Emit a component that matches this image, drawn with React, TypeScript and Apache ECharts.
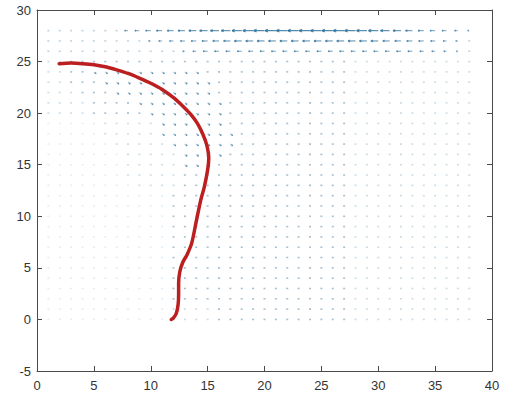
import React, { useEffect, useRef } from "react";
import * as echarts from "echarts";

// Red trajectory (data units)
const trajX = [1.95, 3, 4, 5, 6, 7, 8, 9, 10, 11, 12, 12.8, 13.5, 14.1, 14.6, 14.95, 15.1, 15.0, 14.7, 14.4, 14.0, 13.6, 13.2, 12.8, 12.55, 12.45, 12.45, 12.4, 12.25, 12.0, 11.8];
const trajY = [24.8, 24.85, 24.8, 24.7, 24.5, 24.2, 23.85, 23.4, 22.9, 22.3, 21.5, 20.7, 19.9, 19.0, 17.9, 16.8, 15.6, 14.5, 12.8, 11.6, 9.5, 7.4, 6.3, 5.5, 4.6, 3.5, 2.5, 1.4, 0.6, 0.15, 0];

// Quiver grid columns
const gridXs = [1, 2, 3, 4, 5, 6, 7, 8, 9, 10, 11, 12, 13, 14, 15, 16, 17, 18, 19, 20, 21, 22, 23, 24, 25, 26, 27, 28, 29, 30, 31, 32, 33, 34, 35, 36, 37, 38];

// Top rows: leftward arrow lengths (x units), one per column
const topRowsY = [28, 27, 26];
const row28U = [0.1, 0.1, 0.1, 0.1, 0.1, 0.1, 0.1, 0.3, 0.4, 0.45, 0.5, 0.55, 0.6, 0.65, 0.7, 0.75, 0.8, 0.85, 0.9, 0.95, 0.95, 0.95, 0.95, 0.95, 0.95, 0.95, 0.95, 0.95, 0.9, 0.85, 0.8, 0.7, 0.6, 0.5, 0.45, 0.4, 0.3, 0.15];
const row27U = [0.1, 0.1, 0.1, 0.1, 0.1, 0.1, 0.1, 0.1, 0.1, 0.2, 0.3, 0.35, 0.4, 0.45, 0.5, 0.55, 0.6, 0.65, 0.65, 0.65, 0.65, 0.65, 0.65, 0.65, 0.65, 0.65, 0.65, 0.65, 0.65, 0.65, 0.6, 0.55, 0.5, 0.45, 0.4, 0.3, 0.2, 0.1];
const row26U = [0.12, 0.12, 0.12, 0.12, 0.12, 0.12, 0.12, 0.12, 0.12, 0.12, 0.12, 0.12, 0.2, 0.3, 0.4, 0.4, 0.4, 0.4, 0.4, 0.4, 0.4, 0.4, 0.4, 0.4, 0.4, 0.4, 0.4, 0.4, 0.4, 0.4, 0.4, 0.4, 0.4, 0.35, 0.3, 0.25, 0.15, 0.1];

// Remaining rows: run-length codes (o very faint dot, . faint dot, : medium dot, d short down-right arrow)
const fieldY = [25, 24, 23, 22, 21, 20, 19, 18, 17, 16, 15, 14, 13, 12, 11, 10, 9, 8, 7, 6, 5, 4, 3, 2, 1, 0];
const fieldRuns = [
  "2. 25: 11.",
  "2. 2: 10d 13: 11.",
  "2. 3: 10d 12: 11.",
  "3. 3: 9d 12: 11.",
  "4. 4: 8d 11: 11.",
  "4. 5: 7d 11: 11.",
  "5o 5. 6d 11: 11.",
  "5o 5. 7d 10: 11.",
  "6o 5. 6d 10: 11.",
  "7o 5. 4d 11: 11.",
  "7o 5. 3d 12: 11.",
  "7o 5. 15: 11.",
  "8o 4. 15: 11.",
  "11o 16: 11.",
  "11o 16: 11.",
  "11o 16: 11.",
  "11o 16: 11.",
  "11o 16: 11.",
  "11o 16: 11.",
  "11o 16: 11.",
  "11o 16: 11.",
  "11o 16: 11.",
  "11o 16: 11.",
  "11o 16: 11.",
  "11o 4. 12: 11.",
  "11o 4. 12: 11.",
];
const codeAlpha: Record<string, number> = { o: 0.12, ".": 0.24, ":": 0.42, d: 0.45 };
const diagU = 0.2;
const diagV = -0.17;

function buildQuiver() {
  const out: number[][] = [];
  const tops = [row28U, row27U, row26U];
  topRowsY.forEach((y, r) => {
    tops[r].forEach((len, i) => {
      const x = gridXs[i];
      if (len < 0.15) out.push([x, y, 0, 0, 0.3, 0]);
      else out.push([x, y, -len, 0, Math.min(0.85, 0.3 + 0.55 * len), 1]);
    });
  });
  fieldY.forEach((y, r) => {
    const codes: string[] = [];
    fieldRuns[r].split(" ").forEach((tok) => {
      const n = parseInt(tok, 10);
      const c = tok.replace(/[0-9]/g, "");
      for (let k = 0; k < n; k++) codes.push(c);
    });
    gridXs.forEach((x, i) => {
      const c = codes[i] || ".";
      if (c === "d") out.push([x, y, diagU, diagV, codeAlpha.d, 1]);
      else out.push([x, y, 0, 0, codeAlpha[c] ?? 0.2, 0]);
    });
  });
  return out;
}

export default function App() {
  const ref = useRef<HTMLDivElement>(null);
  useEffect(() => {
    document.body.style.margin = "0";
    if (!ref.current) return;
    const chart = echarts.init(ref.current, null, { renderer: "svg" });
    const axisColor = "#4a4a4a";
    const font = "Liberation Sans, Arial, sans-serif";
    const quiver = buildQuiver();
    const traj = trajX.map((x, i) => [x, trajY[i]]);
    const mkX = (pos: "bottom" | "top", labels: boolean) => ({
      type: "value",
      min: 0,
      max: 40,
      interval: 5,
      position: pos,
      axisLine: { show: true, onZero: false, lineStyle: { color: axisColor, width: 1 } },
      axisTick: { show: true, inside: true, length: 5, lineStyle: { color: axisColor } },
      axisLabel: { show: labels, color: "#333", fontSize: 13, margin: 8, fontFamily: font },
      splitLine: { show: false },
    });
    const mkY = (pos: "left" | "right", labels: boolean) => ({
      type: "value",
      min: -5,
      max: 30,
      interval: 5,
      position: pos,
      axisLine: { show: true, onZero: false, lineStyle: { color: axisColor, width: 1 } },
      axisTick: { show: true, inside: true, length: 5, lineStyle: { color: axisColor } },
      axisLabel: { show: labels, color: "#333", fontSize: 13, margin: 6, fontFamily: font },
      splitLine: { show: false },
    });
    chart.setOption({
      animation: false,
      backgroundColor: "#fff",
      grid: { left: 37, right: 14, top: 10, bottom: 24 },
      xAxis: [mkX("bottom", true), mkX("top", false)],
      yAxis: [mkY("left", true), mkY("right", false)],
      series: [
        {
          type: "custom",
          xAxisIndex: 0,
          yAxisIndex: 0,
          data: quiver,
          encode: { x: 0, y: 1 },
          silent: true,
          renderItem: (params: any, api: any) => {
            const x = api.value(0);
            const y = api.value(1);
            const u = api.value(2);
            const v = api.value(3);
            const a = api.value(4);
            const k = api.value(5);
            const p0 = api.coord([x, y]);
            const col = `rgba(40,108,150,${a})`;
            if (k === 0) {
              return {
                type: "line",
                shape: { x1: p0[0] - 1, y1: p0[1], x2: p0[0] + 1, y2: p0[1] },
                style: { stroke: col, lineWidth: 1.6 },
              };
            }
            const p1 = api.coord([x + u, y + v]);
            const dx = p1[0] - p0[0];
            const dy = p1[1] - p0[1];
            const L = Math.sqrt(dx * dx + dy * dy) || 1;
            const ux = dx / L;
            const uy = dy / L;
            const h = Math.max(1.5, 0.3 * L);
            const ang = 0.45;
            const c1 = Math.cos(ang);
            const s1 = Math.sin(ang);
            const hx1 = p1[0] - h * (ux * c1 - uy * s1);
            const hy1 = p1[1] - h * (ux * s1 + uy * c1);
            const hx2 = p1[0] - h * (ux * c1 + uy * s1);
            const hy2 = p1[1] - h * (-ux * s1 + uy * c1);
            const st = { stroke: col, lineWidth: 1.2 };
            return {
              type: "group",
              children: [
                { type: "line", shape: { x1: p0[0], y1: p0[1], x2: p1[0], y2: p1[1] }, style: st },
                { type: "line", shape: { x1: p1[0], y1: p1[1], x2: hx1, y2: hy1 }, style: st },
                { type: "line", shape: { x1: p1[0], y1: p1[1], x2: hx2, y2: hy2 }, style: st },
              ],
            };
          },
        },
        {
          type: "line",
          xAxisIndex: 0,
          yAxisIndex: 0,
          data: traj,
          showSymbol: false,
          smooth: 0.3,
          silent: true,
          lineStyle: { color: "#BC1F1F", width: 3.5, cap: "round", join: "round" },
          z: 5,
        },
      ],
    });
    return () => chart.dispose();
  }, []);
  return (
    <div
      ref={ref}
      style={{ width: 506, height: 395, position: "absolute", left: 0, top: 0 }}
    />
  );
}
